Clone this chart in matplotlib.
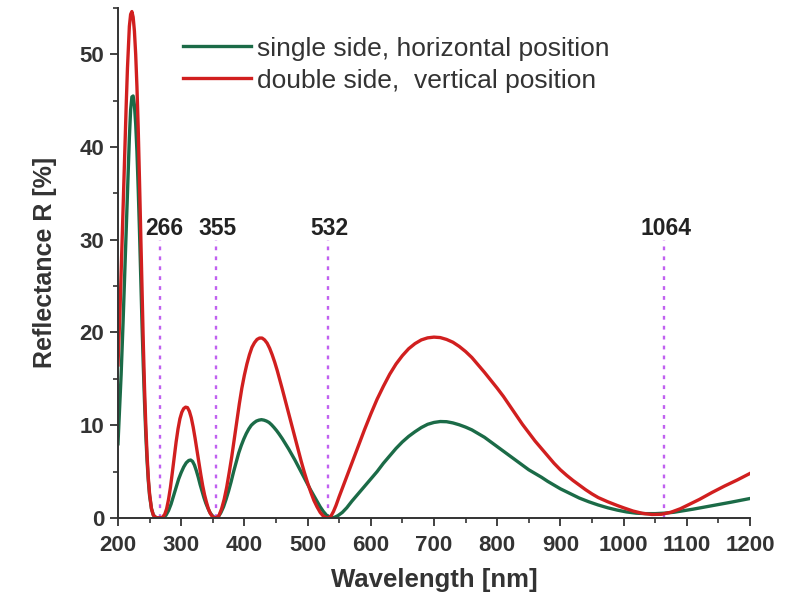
"""Reflectance vs wavelength for single-side / double-side coatings, laser lines marked."""
import matplotlib
matplotlib.use("Agg")
import matplotlib.pyplot as plt
from matplotlib.ticker import MultipleLocator

# values (nm, %)
wl_single = [200, 203, 205, 208, 210, 213, 215, 218, 220, 222, 224, 226, 228, 230,
             232, 234, 236, 238, 240, 242, 244, 246, 248, 250, 253, 256, 260, 265,
             272, 276, 280, 284, 288, 292, 296, 300, 304, 308, 312, 315, 318, 321,
             324, 327, 330, 333, 336, 339, 342, 345, 348, 351, 355, 359, 363, 367,
             371, 375, 379, 383, 387, 391, 395, 399, 403, 407, 411, 415, 419, 423,
             427, 431, 435, 439, 443, 447, 451, 455, 460, 465, 470, 475, 480, 485,
             490, 495, 500, 505, 510, 515, 520, 525, 530, 536, 542, 548, 555, 562,
             570, 580, 590, 600, 610, 620, 630, 640, 650, 660, 670, 680, 690, 700,
             710, 720, 730, 740, 750, 760, 770, 780, 790, 800, 810, 820, 830, 840,
             850, 860, 870, 880, 890, 900, 915, 930, 945, 960, 975, 990, 1005, 1020,
             1035, 1050, 1065, 1080, 1095, 1110, 1130, 1150, 1170, 1185, 1200]
R_single = [8.0, 12.5, 15.5, 21.0, 25.0, 31.0, 35.0, 41.0, 44.0, 45.4, 45.5, 44.5, 42.5, 39.5,
            35.5, 31.0, 26.0, 21.0, 16.5, 12.5, 9.0, 6.2, 4.0, 2.4, 1.0, 0.3, 0.05, 0.0,
            0.05, 0.3, 0.8, 1.5, 2.4, 3.3, 4.2, 4.9, 5.5, 5.95, 6.2, 6.25, 6.1, 5.7,
            5.1, 4.4, 3.6, 2.9, 2.2, 1.6, 1.1, 0.65, 0.35, 0.12, 0.0, 0.15, 0.6, 1.2,
            2.0, 2.9, 3.9, 5.0, 6.0, 7.0, 7.8, 8.5, 9.1, 9.6, 10.0, 10.25, 10.45, 10.55,
            10.6, 10.55, 10.45, 10.3, 10.05, 9.75, 9.42, 9.05, 8.55, 8.0, 7.45, 6.85, 6.25, 5.6,
            4.95, 4.3, 3.65, 3.0, 2.4, 1.8, 1.2, 0.7, 0.3, 0.05, 0.05, 0.25, 0.6, 1.1,
            1.8, 2.6, 3.4, 4.2, 5.0, 5.9, 6.7, 7.5, 8.2, 8.8, 9.3, 9.75, 10.1, 10.3,
            10.4, 10.38, 10.25, 10.05, 9.8, 9.5, 9.1, 8.7, 8.2, 7.7, 7.2, 6.7, 6.2, 5.7,
            5.2, 4.8, 4.4, 3.95, 3.55, 3.15, 2.65, 2.15, 1.75, 1.4, 1.1, 0.85, 0.65, 0.52,
            0.47, 0.47, 0.52, 0.62, 0.78, 0.95, 1.2, 1.45, 1.7, 1.9, 2.1]

wl_double = [200, 203, 205, 208, 210, 213, 215, 218, 220, 222, 224, 226, 228, 230,
             232, 234, 236, 238, 240, 242, 244, 246, 248, 250, 253, 256, 260, 265,
             270, 274, 277, 280, 283, 286, 289, 292, 295, 298, 301, 304, 307, 310,
             313, 316, 319, 322, 325, 328, 331, 334, 337, 340, 343, 346, 349, 352,
             356, 360, 364, 368, 372, 376, 380, 384, 388, 392, 396, 400, 404, 408,
             412, 416, 420, 424, 428, 432, 436, 440, 444, 448, 452, 456, 460, 465,
             470, 475, 480, 485, 490, 495, 500, 505, 510, 515, 520, 525, 530, 533,
             537, 541, 545, 550, 560, 570, 580, 590, 600, 610, 620, 630, 640, 650,
             660, 670, 680, 690, 700, 710, 720, 730, 740, 750, 760, 770, 780, 790,
             800, 810, 820, 830, 840, 850, 860, 870, 880, 890, 900, 910, 920, 930,
             940, 950, 960, 975, 990, 1000, 1015, 1030, 1045, 1060, 1075, 1090, 1105,
             1120, 1140, 1160, 1180, 1200]
R_double = [16.5, 22.0, 26.5, 33.0, 38.0, 44.5, 48.5, 53.0, 54.3, 54.6, 54.0, 52.5, 50.0, 46.5,
            42.0, 36.5, 30.5, 24.5, 19.0, 14.0, 10.0, 6.8, 4.3, 2.6, 1.0, 0.3, 0.05, 0.0,
            0.05, 0.4, 1.0, 2.0, 3.3, 4.9, 6.6, 8.2, 9.6, 10.7, 11.4, 11.8, 11.95, 11.9,
            11.5, 10.8, 9.8, 8.6, 7.3, 6.0, 4.7, 3.5, 2.5, 1.7, 1.0, 0.5, 0.2, 0.05,
            0.0, 0.3, 1.0, 2.0, 3.3, 4.9, 6.6, 8.5, 10.4, 12.3, 14.0, 15.4, 16.6, 17.6,
            18.4, 18.9, 19.25, 19.4, 19.4, 19.2, 18.85, 18.3, 17.6, 16.8, 15.9, 14.9, 13.9, 12.6,
            11.3, 10.0, 8.7, 7.4, 6.1, 4.9, 3.8, 2.8, 1.9, 1.2, 0.6, 0.2, 0.02, 0.0,
            0.2, 0.7, 1.35, 2.3, 4.1, 5.9, 7.7, 9.5, 11.2, 12.8, 14.2, 15.5, 16.6, 17.5,
            18.25, 18.8, 19.2, 19.42, 19.5, 19.45, 19.25, 18.95, 18.5, 17.95, 17.3, 16.5, 15.7, 14.85,
            14.0, 13.1, 12.1, 11.1, 10.1, 9.2, 8.3, 7.5, 6.7, 5.9, 5.2, 4.6, 4.05, 3.55,
            3.05, 2.6, 2.2, 1.75, 1.35, 1.1, 0.75, 0.5, 0.38, 0.4, 0.62, 1.0, 1.5,
            2.0, 2.75, 3.45, 4.1, 4.8]

laser_lines = [266, 355, 532, 1064]
laser_labels = ["266", "355", "532", "1064"]

plt.rcParams.update({
    "font.family": ["Liberation Sans", "DejaVu Sans"],
    "axes.edgecolor": "#333333",
    "xtick.color": "#333333",
    "ytick.color": "#333333",
})

fig = plt.figure(figsize=(7.85, 6.04), dpi=100)
ax = fig.add_axes([0.1503, 0.1424, 0.805, 0.8446])

ax.plot(wl_single, R_single, color="#1b6b47", lw=2.4,
        label="single side, horizontal position")
ax.plot(wl_double, R_double, color="#d11f1f", lw=2.4,
        label="double side,  vertical position")

for x, lab in zip(laser_lines, laser_labels):
    ax.plot([x, x], [0, 30], color="#c060f0", lw=1.7, ls=(0, (1.6, 2.6)), zorder=1)
    xt = x + 7 if x == 266 else x + 3
    ax.text(xt, 31.2, lab, ha="center", va="center", fontsize=16.5,
            fontweight="bold", color="#222222")

ax.set_xlim(200, 1200)
ax.set_ylim(0, 55)
ax.xaxis.set_major_locator(MultipleLocator(100))
ax.xaxis.set_minor_locator(MultipleLocator(50))
ax.yaxis.set_major_locator(MultipleLocator(10))
ax.yaxis.set_minor_locator(MultipleLocator(5))
ax.tick_params(which="major", direction="out", length=6, width=1.3,
               labelsize=16, pad=4)
ax.tick_params(axis="x", which="major", pad=6)
ax.tick_params(which="minor", direction="out", length=3.5, width=1.2)
for lbl in ax.get_xticklabels() + ax.get_yticklabels():
    lbl.set_fontweight("bold")

ax.spines["top"].set_visible(False)
ax.spines["right"].set_visible(False)
ax.spines["left"].set_linewidth(1.4)
ax.spines["bottom"].set_linewidth(1.4)

ax.set_xlabel("Wavelength [nm]", fontsize=18.5, fontweight="bold", labelpad=9,
              color="#333333")
ax.set_ylabel("Reflectance R [%]", fontsize=18, fontweight="bold", labelpad=16,
              color="#333333")

ax.legend(loc="upper left", bbox_to_anchor=(0.066, 0.99), frameon=False,
          fontsize=19, handlelength=2.55, handletextpad=0.25, labelspacing=0.3,
          labelcolor="#333333")

fig.savefig("out.png", dpi=100, facecolor="white")
